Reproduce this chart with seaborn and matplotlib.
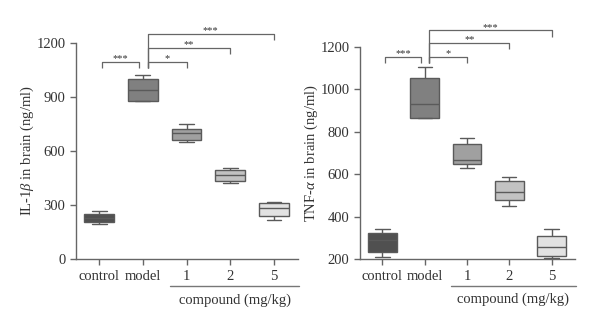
import numpy as np
import pandas as pd
import matplotlib
matplotlib.use("Agg")
import matplotlib.pyplot as plt
import seaborn as sns
from matplotlib.transforms import blended_transform_factory

# ---- data ----
groups = ["control", "model", "1", "2", "5"]
# five-number summaries: min, q1, median, q3, max
il1b_control = [193, 205, 225, 252, 265]
il1b_model = [875, 878, 937, 1002, 1024]
il1b_c1 = [648, 661, 698, 720, 752]
il1b_c2 = [422, 435, 467, 494, 507]
il1b_c5 = [218, 241, 281, 309, 317]

tnf_control = [209, 234, 290, 321, 341]
tnf_model = [863, 866, 932, 1051, 1103]
tnf_c1 = [627, 646, 665, 743, 768]
tnf_c2 = [448, 478, 516, 569, 588]
tnf_c5 = [206, 216, 255, 310, 341]

comparisons = [("control", "model", "***"), ("model", "1", "*"),
               ("model", "2", "**"), ("model", "5", "***")]
box_colors = ["#505050", "#808080", "#a0a0a0", "#c2c2c2", "#e2e2e2"]


def long_df(series):
    rows = []
    for g, vals in zip(groups, series):
        for v in vals:
            rows.append({"group": g, "value": v})
    return pd.DataFrame(rows)


df_il = long_df([il1b_control, il1b_model, il1b_c1, il1b_c2, il1b_c5])
df_tnf = long_df([tnf_control, tnf_model, tnf_c1, tnf_c2, tnf_c5])

sns.set_theme(style="ticks")
plt.rcParams["font.family"] = ["Liberation Serif", "DejaVu Serif"]
plt.rcParams["mathtext.fontset"] = "custom"
plt.rcParams["mathtext.it"] = "Liberation Serif:italic"
plt.rcParams["mathtext.rm"] = "Liberation Serif"

TXT = "#333333"
LC = "#5a5a5a"

fig = plt.figure(figsize=(6.0, 3.28), dpi=100)
ax1 = fig.add_axes([0.1267, 0.2104, 0.37, 0.6585])
ax2 = fig.add_axes([0.60, 0.2104, 0.358, 0.647])


def draw(ax, df, ylim, yticks, ylabel, levels, unit):
    sns.boxplot(data=df, x="group", y="value", hue="group", order=groups,
                hue_order=groups, palette=box_colors, legend=False,
                whis=(0, 100), width=0.68, linecolor=LC, linewidth=1.0,
                showfliers=False, ax=ax)
    ax.set_xlim(-0.53, 4.55)
    ax.set_ylim(*ylim)
    ax.set_yticks(yticks)
    ax.set_yticklabels([str(t) for t in yticks])
    ax.set_xlabel("")
    ax.set_ylabel(ylabel, fontsize=10.5, color=TXT, labelpad=0)
    for s in ["top", "right"]:
        ax.spines[s].set_visible(False)
    for s in ["left", "bottom"]:
        ax.spines[s].set_color("#666666")
        ax.spines[s].set_linewidth(1.0)
    ax.tick_params(axis="both", colors="#666666", labelcolor=TXT,
                   labelsize=10.5, length=4, width=1.0, direction="out")
    ax.tick_params(axis="x", pad=4)

    # significance brackets
    idx = {g: i for i, g in enumerate(groups)}
    low = levels[0] - 33 * unit
    for (a, b, star), lev in zip(comparisons, levels):
        xa, xb = idx[a], idx[b]
        if a == "control":
            xa, xb = xa + 0.06, xb - 0.08
            ya = lev - 33 * unit
        else:
            xa = xa + 0.11
            ya = low
        yb = lev - 36 * unit
        ax.plot([xa, xa, xb, xb], [ya, lev, lev, yb], color="#666666",
                lw=0.9, clip_on=False, solid_capstyle="butt")
        ax.text((xa + xb) / 2, lev + 16 * unit, star, ha="center",
                va="center", fontsize=7.5, color=TXT, clip_on=False)

    tr = blended_transform_factory(ax.transData, ax.transAxes)
    ax.plot([1.62, 4.57], [-0.125, -0.125], transform=tr, color="#777777",
            lw=1.0, clip_on=False)
    ax.text(3.1, -0.19, "compound (mg/kg)", transform=tr, ha="center",
            va="center", fontsize=10.5, color=TXT)


draw(ax1, df_il, (0, 1200), [0, 300, 600, 900, 1200],
     r"IL-1$\it{\beta}$ in brain (ng/ml)", [1096, 1096, 1174, 1252], 1.0)
draw(ax2, df_tnf, (200, 1200), [200, 400, 600, 800, 1000, 1200],
     r"TNF-$\it{\alpha}$ in brain (ng/ml)", [1153, 1153, 1219, 1279], 0.85)

fig.savefig("out.png", dpi=100)
